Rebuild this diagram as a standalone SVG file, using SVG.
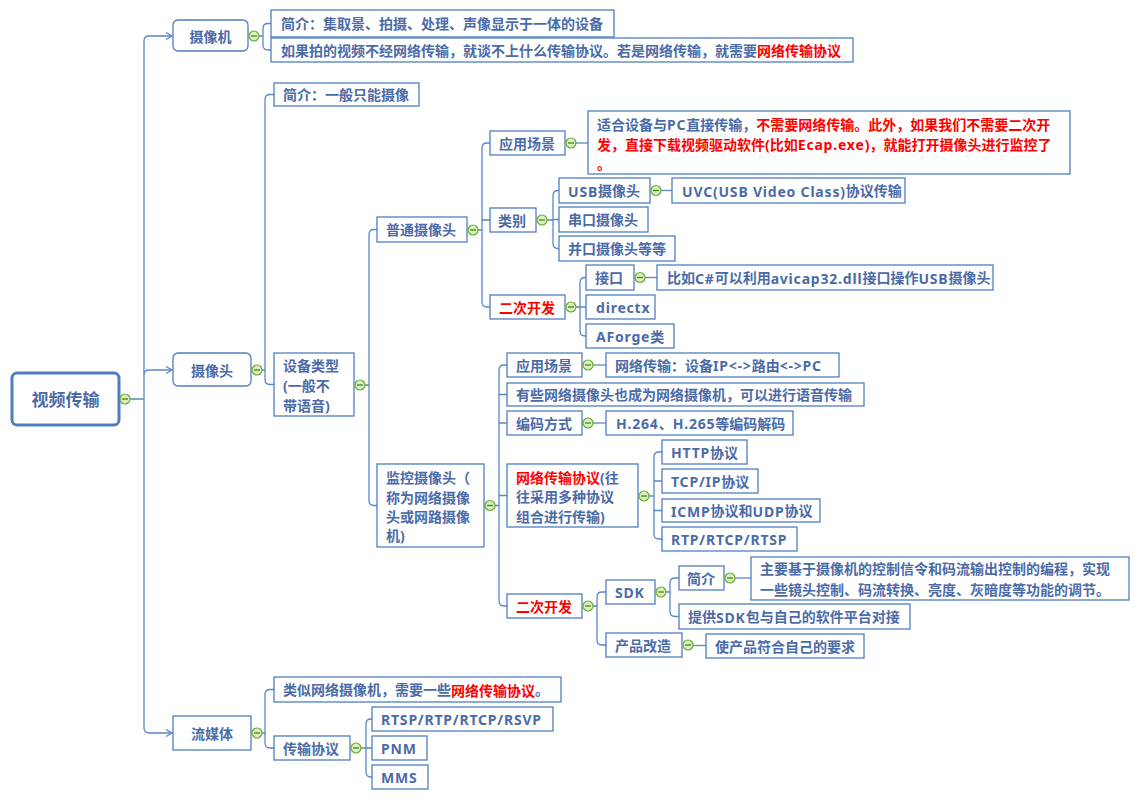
<svg xmlns="http://www.w3.org/2000/svg" xmlns:xlink="http://www.w3.org/1999/xlink" width="1144" height="798" viewBox="0 0 1144 798">
<style>
.n rect{fill:#fff;stroke:#4f7ec0;stroke-width:1.3}
.t{font-family:"Noto Sans","Noto Sans CJK SC",sans-serif;font-size:14px;font-weight:bold;fill:#4b6ba8;dominant-baseline:central}
.m{text-anchor:middle}
.r{fill:#ff0000}
.l{letter-spacing:0.8px}
.c path{fill:none;stroke:#5a87c8;stroke-width:1.3}
</style>
<defs>
<g id="mn"><circle r="5" fill="#d9efc0" stroke="#6aaa2a" stroke-width="1.2"/><path d="M-3,0H3" stroke="#3d7a14" stroke-width="1.2"/></g>
<marker id="ar" markerUnits="userSpaceOnUse" markerWidth="10" markerHeight="10" refX="7" refY="4" orient="auto"><path d="M1,0.5 L7,4 L1,7.5" fill="none" stroke="#5a87c8" stroke-width="1.3"/></marker>
</defs>
<rect width="1144" height="798" fill="#fff"/>
<g class="c" id="connectors">
<path d="M130,399 H144 M144,41 V728"/>
<path d="M144,41 Q144,36 149,36 H172" marker-end="url(#ar)"/>
<path d="M144,375 Q144,370 149,370 H172" marker-end="url(#ar)"/>
<path d="M144,728 Q144,733 149,733 H172" marker-end="url(#ar)"/>
<path d="M259,36 H263 M263,28.5 V45 M263,28.5 Q263,23.5 268,23.5 H271 M263,45 Q263,50 268,50 H271"/>
<path d="M262,370 H265 M265,99.5 V379.5 M265,99.5 Q265,94.5 270,94.5 H274 M265,379.5 Q265,384.5 270,384.5 H274"/>
<path d="M365,385 H369 M369,234.5 V500.5 M369,234.5 Q369,229.5 374,229.5 H377 M369,500.5 Q369,505.5 374,505.5 H377"/>
<path d="M478,230 H482 M482,148 V302 M482,148 Q482,143 487,143 H490 M482,220 H490 M482,302 Q482,307 487,307 H490"/>
<path d="M576,143 H588"/>
<path d="M547,220 H553 M553,195.5 V243.5 M553,195.5 Q553,190.5 558,190.5 H559 M553,219.5 H559 M553,243.5 Q553,248.5 558,248.5 H559"/>
<path d="M661,190.5 H672"/>
<path d="M576,307 H580 M580,282.5 V331 M580,282.5 Q580,277.5 585,277.5 H586 M580,307 H586 M580,331 Q580,336 585,336 H586"/>
<path d="M645,277.5 H657"/>
<path d="M495,505.5 H499 M499,370 V601 M499,370 Q499,365 504,365 H507 M499,394.5 H507 M499,423 H507 M499,495.5 H507 M499,601 Q499,606 504,606 H507"/>
<path d="M593,365 H606"/>
<path d="M593,423 H606"/>
<path d="M649,496 H654 M654,457 V534 M654,457 Q654,452 659,452 H662 M654,481 H662 M654,510.5 H662 M654,534 Q654,539 659,539 H662"/>
<path d="M593,606 H597 M597,597 V640 M597,597 Q597,592 602,592 H606 M597,640 Q597,645 602,645 H606"/>
<path d="M666,592 H670 M670,583 V611.5 M670,583 Q670,578 675,578 H679 M670,611.5 Q670,616.5 675,616.5 H679"/>
<path d="M735,578 H751"/>
<path d="M693,645.5 H706"/>
<path d="M262,733 H265 M265,694.5 V743 M265,694.5 Q265,689.5 270,689.5 H274 M265,743 Q265,748 270,748 H274"/>
<path d="M361,748 H366 M366,724 V772 M366,724 Q366,719 371,719 H372 M366,748 H372 M366,772 Q366,777 371,777 H372"/>
</g>
<g class="n" id="root"><rect x="12" y="373" width="107" height="52" rx="5" style="stroke-width:3"/><text class="t m" x="65.5" y="399" style="font-size:17px">视频传输</text><use href="#mn" x="125" y="399"/></g>
<g class="n" id="camera-machine"><rect x="173" y="20" width="75" height="31" rx="5"/><text class="t m" x="210.5" y="36">摄像机</text><use href="#mn" x="254" y="36"/></g>
<g class="n" id="camera"><rect x="173" y="353" width="78" height="33" rx="5"/><text class="t m" x="212" y="370">摄像头</text><use href="#mn" x="257" y="370"/></g>
<g class="n" id="streaming"><rect x="173" y="716" width="78" height="34"/><text class="t m" x="212" y="733">流媒体</text><use href="#mn" x="257" y="733"/></g>
<g class="n" id="cm-intro"><rect x="271" y="10" width="343" height="27"/><text class="t" x="281" y="23.5">简介：集取景、拍摄、处理、声像显示于一体的设备</text></g>
<g class="n" id="cm-note"><rect x="271" y="38" width="582" height="24"/><text class="t" x="281" y="50">如果拍的视频不经网络传输，就谈不上什么传输协议。若是网络传输，就需要<tspan class="r">网络传输协议</tspan></text></g>
<g class="n" id="cam-intro"><rect x="274" y="83" width="145" height="23"/><text class="t" x="283" y="94.5">简介：一般只能摄像</text></g>
<g class="n" id="dev-type"><rect x="274" y="353" width="80" height="63"/><text class="t" x="283" y="365">设备类型</text><text class="t" x="283" y="385">(一般不</text><text class="t" x="283" y="405">带语音)</text><use href="#mn" x="360" y="385"/></g>
<g class="n" id="normal-cam"><rect x="377" y="217" width="90" height="25"/><text class="t" x="386" y="229.5">普通摄像头</text><use href="#mn" x="473" y="230"/></g>
<g class="n" id="monitor-cam"><rect x="377" y="464" width="107" height="83"/><text class="t" x="386" y="477">监控摄像头（</text><text class="t" x="386" y="497">称为网络摄像</text><text class="t" x="386" y="516">头或网路摄像</text><text class="t" x="386" y="535">机)</text><use href="#mn" x="490" y="505.5"/></g>
<g class="n" id="nc-scene"><rect x="490" y="131" width="75" height="24"/><text class="t" x="499" y="143">应用场景</text><use href="#mn" x="571" y="143"/></g>
<g class="n" id="nc-scene-text"><rect x="588" y="111" width="482" height="63"/><text class="t" x="597" y="124">适合设备与<tspan class="l">PC</tspan>直接传输，<tspan class="r">不需要网络传输。此外，如果我们不需要二次开</tspan></text><text class="t r" x="597" y="144">发，直接下载视频驱动软件(比如<tspan class="l">Ecap.exe</tspan>)，就能打开摄像头进行监控了</text><text class="t r" x="597" y="163">。</text></g>
<g class="n" id="nc-kind"><rect x="490" y="208" width="46" height="24"/><text class="t" x="498" y="220">类别</text><use href="#mn" x="542" y="220"/></g>
<g class="n" id="usb"><rect x="559" y="178" width="91" height="25"/><text class="t" x="568" y="190.5"><tspan class="l">USB</tspan>摄像头</text><use href="#mn" x="656" y="190.5"/></g>
<g class="n" id="uvc"><rect x="672" y="178" width="233" height="25"/><text class="t" x="682" y="190.5"><tspan class="l">UVC(USB Video Class)</tspan>协议传输</text></g>
<g class="n" id="serial"><rect x="559" y="207" width="89" height="25"/><text class="t" x="568" y="219.5">串口摄像头</text></g>
<g class="n" id="parallel"><rect x="559" y="236" width="116" height="25"/><text class="t" x="568" y="248.5">并口摄像头等等</text></g>
<g class="n" id="nc-dev"><rect x="490" y="295" width="75" height="24"/><text class="t r" x="499" y="307">二次开发</text><use href="#mn" x="571" y="307"/></g>
<g class="n" id="iface"><rect x="586" y="265" width="48" height="25"/><text class="t" x="595" y="277.5">接口</text><use href="#mn" x="640" y="277.5"/></g>
<g class="n" id="iface-text"><rect x="657" y="265" width="336" height="25"/><text class="t" x="667" y="277.5">比如<tspan class="l">C#</tspan>可以利用<tspan class="l">avicap32.dll</tspan>接口操作<tspan class="l">USB</tspan>摄像头</text></g>
<g class="n" id="directx"><rect x="586" y="295" width="69" height="24"/><text class="t l" x="596" y="307">directx</text></g>
<g class="n" id="aforge"><rect x="586" y="324" width="88" height="24"/><text class="t" x="596" y="336"><tspan class="l">AForge</tspan>类</text></g>
<g class="n" id="mc-scene"><rect x="507" y="353" width="75" height="24"/><text class="t" x="516" y="365">应用场景</text><use href="#mn" x="588" y="365"/></g>
<g class="n" id="mc-scene-text"><rect x="606" y="353" width="233" height="24"/><text class="t" x="615" y="365">网络传输：设备<tspan class="l">IP&lt;-&gt;</tspan>路由<tspan class="l">&lt;-&gt;PC</tspan></text></g>
<g class="n" id="mc-voice"><rect x="507" y="383" width="357" height="23"/><text class="t" x="516" y="394.5">有些网络摄像头也成为网络摄像机，可以进行语音传输</text></g>
<g class="n" id="mc-codec"><rect x="507" y="411" width="75" height="24"/><text class="t" x="516" y="423">编码方式</text><use href="#mn" x="588" y="423"/></g>
<g class="n" id="codec-text"><rect x="606" y="411" width="187" height="24"/><text class="t" x="616" y="423"><tspan class="l">H.264</tspan>、<tspan class="l">H.265</tspan>等编码解码</text></g>
<g class="n" id="mc-proto"><rect x="507" y="464" width="131" height="63"/><text class="t" x="516" y="477"><tspan class="r">网络传输协议</tspan>(往</text><text class="t" x="516" y="496">往采用多种协议</text><text class="t" x="516" y="516">组合进行传输)</text><use href="#mn" x="644" y="496"/></g>
<g class="n" id="http"><rect x="662" y="440" width="85" height="24"/><text class="t" x="671" y="452"><tspan class="l">HTTP</tspan>协议</text></g>
<g class="n" id="tcpip"><rect x="662" y="469" width="96" height="24"/><text class="t" x="671" y="481"><tspan class="l">TCP/IP</tspan>协议</text></g>
<g class="n" id="icmp"><rect x="662" y="499" width="158" height="23"/><text class="t" x="671" y="510.5"><tspan class="l">ICMP</tspan>协议和<tspan class="l">UDP</tspan>协议</text></g>
<g class="n" id="rtp"><rect x="662" y="527" width="135" height="24"/><text class="t l" x="671" y="539">RTP/RTCP/RTSP</text></g>
<g class="n" id="mc-dev"><rect x="507" y="594" width="75" height="24"/><text class="t r" x="516" y="606">二次开发</text><use href="#mn" x="588" y="606"/></g>
<g class="n" id="sdk"><rect x="606" y="580" width="49" height="24"/><text class="t l" x="615" y="592">SDK</text><use href="#mn" x="661" y="592"/></g>
<g class="n" id="sdk-intro"><rect x="679" y="566" width="45" height="24"/><text class="t" x="687" y="578">简介</text><use href="#mn" x="730" y="578"/></g>
<g class="n" id="sdk-intro-text"><rect x="751" y="557" width="378" height="43"/><text class="t" x="760" y="568">主要基于摄像机的控制信令和码流输出控制的编程，实现</text><text class="t" x="760" y="589">一些镜头控制、码流转换、亮度、灰暗度等功能的调节。</text></g>
<g class="n" id="sdk-pkg"><rect x="679" y="604" width="231" height="25"/><text class="t" x="688" y="616.5">提供<tspan class="l">SDK</tspan>包与自己的软件平台对接</text></g>
<g class="n" id="product"><rect x="606" y="633" width="76" height="24"/><text class="t" x="615" y="645">产品改造</text><use href="#mn" x="688" y="645"/></g>
<g class="n" id="product-text"><rect x="706" y="634" width="158" height="24"/><text class="t" x="715" y="646">使产品符合自己的要求</text></g>
<g class="n" id="sm-intro"><rect x="274" y="677" width="287" height="25"/><text class="t" x="283" y="689.5">类似网络摄像机，需要一些<tspan class="r">网络传输协议</tspan>。</text></g>
<g class="n" id="sm-proto"><rect x="274" y="736" width="76" height="24"/><text class="t" x="283" y="748">传输协议</text><use href="#mn" x="356" y="748"/></g>
<g class="n" id="rtsp"><rect x="372" y="707" width="181" height="24"/><text class="t l" x="381" y="719">RTSP/RTP/RTCP/RSVP</text></g>
<g class="n" id="pnm"><rect x="372" y="736" width="55" height="24"/><text class="t l" x="381" y="748">PNM</text></g>
<g class="n" id="mms"><rect x="372" y="765" width="56" height="24"/><text class="t l" x="381" y="777">MMS</text></g>
</svg>
